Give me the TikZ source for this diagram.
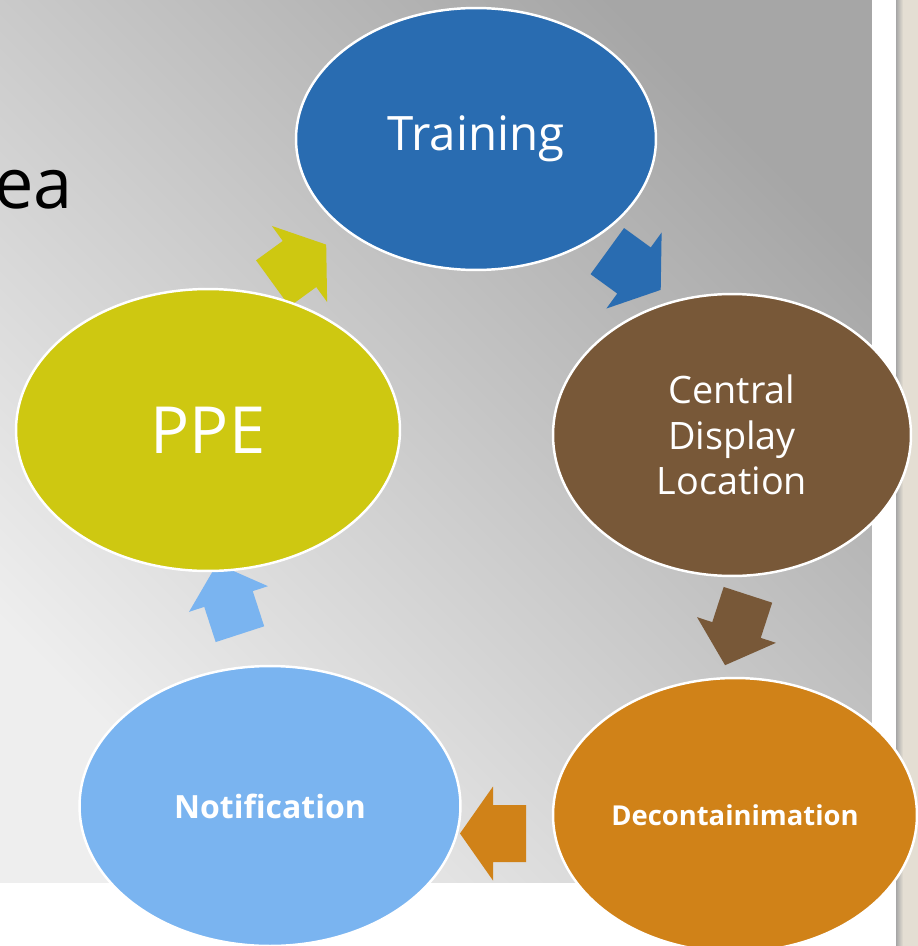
\documentclass[tikz,border=0pt]{standalone}
\usepackage{fontspec}
\setmainfont{Open Sans}
\usetikzlibrary{positioning}
\usetikzlibrary{shapes}
\definecolor{trainblue}{RGB}{41,108,177}
\definecolor{displaybrown}{RGB}{120,88,56}
\definecolor{deconorange}{RGB}{208,130,24}
\definecolor{notifblue}{RGB}{122,180,240}
\definecolor{ppeyellow}{RGB}{206,200,17}
\definecolor{bgdark}{RGB}{166,166,166}
\definecolor{bgmid}{RGB}{214,214,214}
\definecolor{bglight}{RGB}{238,238,238}
\definecolor{sidebar}{RGB}{228,222,211}
\tikzstyle{cyclenode}=[ellipse, draw=white, line width=1.4pt, text=white, align=center, inner sep=0pt]
\tikzstyle{cyclearrow}=[draw=none]

\begin{document}
\begin{tikzpicture}[x=0.02cm, y=0.02cm]
\useasboundingbox (0,0) rectangle (918,-946);

% slide background
\shade[top color=bgdark, middle color=bgmid, bottom color=bglight, shading angle=-45] (0,0) rectangle (872,-883);
\fill[white] (872,0) rectangle (896,-946);
\fill[white] (0,-883) rectangle (872,-946);
\fill[sidebar] (896,0) rectangle (918,-946);
\shade[left color=black!35, right color=sidebar] (896,0) rectangle (903,-946);

\node[anchor=base east, inner sep=0pt, font=\fontsize{40}{48}\selectfont] (title) at (73,-208) {rea};

% block arrows between the steps
\foreach \px/\py/\ang/\col/\tl/\sw/\hw in {
    299.5/264/36/ppeyellow/33/28.5/47,
    634/270.5/-36/trainblue/33/28.5/47,
    736.5/630/-108/displaybrown/37/25.5/41.5,
    493/833.5/180/deconorange/33/28.5/47,
    228.5/599/108/notifblue/37/25.5/41.5}{
    \fill[cyclearrow, \col, shift={(\px,-\py)}, rotate=\ang]
        (-\tl,-\sw) -- (0,-\sw) -- (0,-\hw) -- (\tl,0) -- (0,\hw) -- (0,\sw) -- (-\tl,\sw) -- cycle;
}

\node[cyclenode, fill=trainblue, minimum width=7.2cm, minimum height=5.24cm,
      font=\fontsize{27}{32}\selectfont] (training) at (476,-139) {Training};
\node[cyclenode, fill=displaybrown, minimum width=7.16cm, minimum height=5.64cm,
      font=\fontsize{21.5}{25.9}\selectfont] (display) at (732,-435) {Central\\Display\\Location};
\node[cyclenode, fill=deconorange, minimum width=7.28cm, minimum height=5.48cm,
      font=\bfseries\fontsize{15.6}{19}\selectfont] (decon) at (735,-815) {Decontainimation};
\node[cyclenode, fill=notifblue, minimum width=7.62cm, minimum height=5.6cm,
      font=\bfseries\fontsize{18.2}{22}\selectfont] (notif) at (270,-806) {Notification};
\node[cyclenode, fill=ppeyellow, minimum width=7.68cm, minimum height=5.64cm,
      font=\fontsize{37}{44}\selectfont] (ppe) at (208,-430) {PPE};

\end{tikzpicture}
\end{document}
